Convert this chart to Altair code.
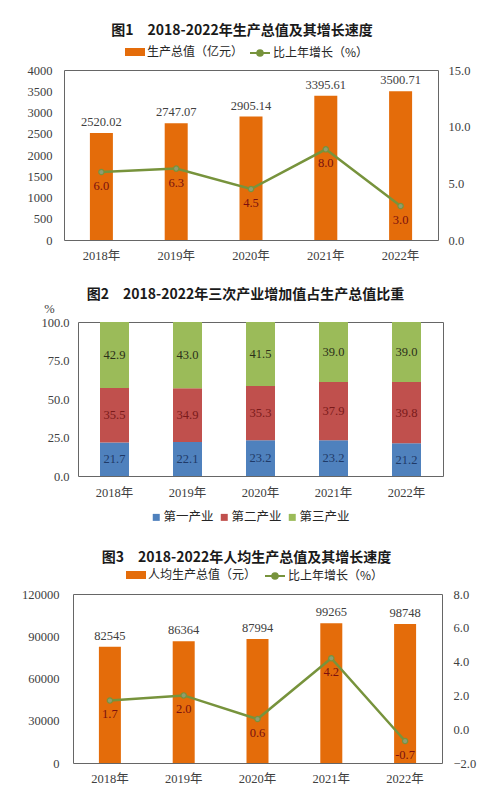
import altair as alt
import pandas as pd

years = ["2018年", "2019年", "2020年", "2021年", "2022年"]
gdp = [2520.02, 2747.07, 2905.14, 3395.61, 3500.71]
gdp_growth = [6.0, 6.3, 4.5, 8.0, 3.0]
industries = ["第一产业", "第二产业", "第三产业"]
primary = [21.7, 22.1, 23.2, 23.2, 21.2]
secondary = [35.5, 34.9, 35.3, 37.9, 39.8]
tertiary = [42.9, 43.0, 41.5, 39.0, 39.0]
per_capita = [82545, 86364, 87994, 99265, 98748]
pc_growth = [1.7, 2.0, 0.6, 4.2, -0.7]

SERIF = "Liberation Serif, Noto Sans CJK SC"
SANS = "Noto Sans CJK SC"
ORANGE = "#E46C0A"
GREEN = "#77933C"
PT_FILL = "#8E9C74"
BLUE = "#4F81BD"
RED = "#C0504D"
LGREEN = "#9BBB59"
LABEL = "#404040"

BAR_SYM = "M-1,-0.4L1,-0.4L1,0.4L-1,0.4Z"
LINE_SYM = "M-1,0L1,0M-0.28,0A0.28,0.28,0,1,0,0.28,0A0.28,0.28,0,1,0,-0.28,0Z"


def xenc(pad=9):
    return alt.X("year:N", sort=years,
                 scale=alt.Scale(domain=years, paddingInner=0, paddingOuter=0),
                 axis=alt.Axis(title=None, labelAngle=0, labelPadding=pad))


def spacer():
    return alt.Chart(pd.DataFrame({"s": [0]})).transform_filter("false").mark_point(
        opacity=0).encode(
        x=alt.X("s:Q", axis=None), y=alt.Y("s:Q", axis=None)
    ).properties(width=1, height=1,
                 view=alt.ViewBackground(stroke="transparent", strokeWidth=0))


def combo(values, growth, bar_label, line_label, ymax, ystep, rmin, rmax, rstep,
          width, height, extent, lpad, rpad, title, tdx, toff, bar_fmt, bar_size,
          leg_y, bar_leg_x, line_leg_x):
    df = pd.DataFrame({"year": years, "value": values, "growth": growth,
                       "bs": bar_label, "ls": line_label})
    base = alt.Chart(df)
    yl = alt.Y("value:Q", scale=alt.Scale(domain=[0, ymax], nice=False),
               axis=alt.Axis(title=None, values=list(range(0, ymax + 1, ystep)),
                             labelPadding=lpad, minExtent=extent, format="d"))
    rvals = []
    v = rmin
    while v <= rmax + 1e-9:
        rvals.append(v)
        v += rstep
    yr = alt.Y("growth:Q", scale=alt.Scale(domain=[rmin, rmax], nice=False),
               axis=alt.Axis(title=None, orient="right", values=rvals,
                             format=".1f", labelPadding=rpad))
    bars = base.mark_bar(size=bar_size).encode(
        x=xenc(), y=yl,
        color=alt.Color("bs:N", scale=alt.Scale(domain=[bar_label], range=[ORANGE]),
                        legend=alt.Legend(title=None, orient="none", legendX=bar_leg_x,
                                          legendY=leg_y, symbolType=BAR_SYM,
                                          symbolSize=400, symbolStrokeWidth=0,
                                          labelFont=SANS, labelFontSize=12,
                                          labelColor="#262626", labelOffset=2,
                                          padding=0)))
    btext = base.mark_text(baseline="bottom", dy=-4, font=SERIF, fontSize=12.5,
                           color=LABEL).encode(
        x=xenc(), y=yl, text=alt.Text("value:Q", format=bar_fmt))
    line = base.mark_line(strokeWidth=2.5).encode(
        x=xenc(), y=yr,
        color=alt.Color("ls:N", scale=alt.Scale(domain=[line_label], range=[GREEN]),
                        legend=alt.Legend(title=None, orient="none", legendX=line_leg_x,
                                          legendY=leg_y, symbolType=LINE_SYM,
                                          symbolSize=400, symbolStrokeWidth=2,
                                          symbolFillColor=GREEN,
                                          labelFont=SANS, labelFontSize=12,
                                          labelColor="#262626", labelOffset=2,
                                          padding=0)))
    pts = base.mark_point(filled=False, size=28, fill=PT_FILL, stroke=GREEN,
                          strokeWidth=1.2, opacity=1).encode(x=xenc(), y=yr)
    gtext = base.transform_calculate(
        glabel="replace(format(datum.growth, '.1f'), '\u2212', '-')"
    ).mark_text(baseline="middle", dy=14, font=SERIF, fontSize=12.5,
                color="#7A1010").encode(x=xenc(), y=yr, text="glabel:N")
    ch = alt.layer(alt.layer(bars, btext), alt.layer(line, pts, gtext)).resolve_scale(
        y="independent", color="independent")
    return ch.properties(width=width, height=height,
                         title=alt.Title(title, dx=tdx, offset=toff))


c1 = combo(gdp, gdp_growth, "生产总值（亿元）", "比上年增长（%）", 4000, 500, 0, 15, 5,
           374, 170, 54, 12, 10, "图1　2018-2022年生产总值及其增长速度", -9, 4, ".2f", 23,
           -28, 61, 185)

rows = []
for i, y in enumerate(years):
    for k, (name, arr) in enumerate(zip(industries, [primary, secondary, tertiary])):
        rows.append({"year": y, "industry": name, "share": arr[i], "k": k})
df2 = pd.DataFrame(rows)

ax2 = alt.Axis(title="%", values=[0, 25, 50, 75, 100], format=".1f",
               labelPadding=9, minExtent=68, titleAngle=0, titleX=-29,
               titleY=-14, titleAlign="center", titleBaseline="middle",
               titleFont=SERIF, titleFontSize=12.5, titleFontWeight="normal",
               titleColor=LABEL)
sc2 = alt.Scale(domain=[0, 100], nice=False)
bars2 = alt.Chart(df2).mark_bar(size=29, clip=True).encode(
    x=xenc(10), y=alt.Y("share:Q", stack="zero", scale=sc2, axis=ax2),
    color=alt.Color("industry:N", scale=alt.Scale(domain=industries,
                                                  range=[BLUE, RED, LGREEN]),
                    legend=alt.Legend(title=None, orient="none", direction="horizontal",
                                      legendX=72, legendY=189, symbolType="square",
                                      symbolSize=49, symbolStrokeWidth=0,
                                      labelFont=SANS, labelFontSize=12.5,
                                      labelColor="#262626", labelOffset=1,
                                      columnPadding=4, padding=0)),
    order=alt.Order("k:Q", sort="ascending"))
text2 = alt.Chart(df2).transform_stack(
    stack="share", as_=["s0", "s1"], groupby=["year"],
    sort=[alt.SortField("k", order="ascending")]
).transform_calculate(mid="(datum.s0 + datum.s1) / 2").mark_text(
    baseline="middle", font=SERIF, fontSize=12.5).encode(
    x=xenc(10),
    y=alt.Y("mid:Q", scale=sc2, axis=ax2),
    text=alt.Text("share:Q", format=".1f"),
    color=alt.Color("industry:N", scale=alt.Scale(domain=industries,
                                                  range=["#1F3A68", "#7A1A1A", "#2B2F1A"]),
                    legend=None))
c2 = alt.layer(bars2, text2).resolve_scale(color="independent").properties(
    width=365, height=154,
    title=alt.Title("图2　2018-2022年三次产业增加值占生产总值比重", dx=-15, offset=0))

c3 = combo(per_capita, pc_growth, "人均生产总值（元）", "比上年增长（%）", 120000, 30000,
           -2, 8, 2, 369, 169, 63, 14, 11, "图3　2018-2022年人均生产总值及其增长速度", -11,
           0, "d", 22, -29, 53, 191)

rows_ = [alt.hconcat(spacer(), c, spacing=0) for c in (c1, c2, c3)]
chart = alt.vconcat(*rows_, spacing=25).properties(
    padding={"top": 15, "left": 0, "right": 0, "bottom": 0}
).configure_view(stroke="#666666", strokeWidth=1).configure_axis(
    domain=False, ticks=False, grid=False, labelFont=SERIF, labelFontSize=12.5,
    labelColor=LABEL
).configure_title(
    font=SANS, fontSize=14, fontWeight="bold", color="#1a1a1a", anchor="middle"
).configure_legend(padding=0)

chart.save("out.html", embed_options={"renderer": "svg", "actions": False})
